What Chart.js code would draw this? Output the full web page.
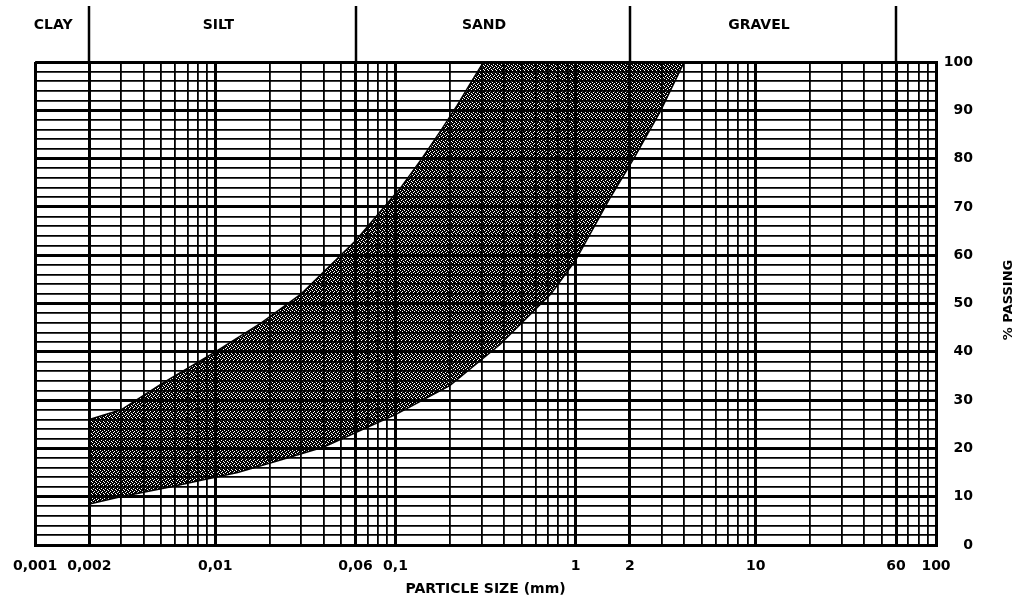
<!DOCTYPE html>
<html>
<head>
<meta charset="utf-8">
<script src="https://cdn.jsdelivr.net/npm/chart.js@4.4.0/dist/chart.umd.min.js"></script>
<style>
  html, body { margin: 0; padding: 0; background: #fff; }
  #wrap { width: 1020px; height: 605px; }
</style>
</head>
<body>
<div id="wrap"><canvas id="gradingChart" width="1020" height="605"></canvas></div>
<script>
// grading envelope: particle size (mm) vs % passing
const fineSize      = [0.002, 0.003, 0.0051, 0.01, 0.018, 0.03, 0.06, 0.107, 0.14, 0.18, 0.22, 0.26, 0.308];
const finePassing   = [26, 28, 33.5, 40, 46, 52, 63, 74, 80, 86, 91, 95.5, 100];
const coarseSize    = [0.002, 0.0029, 0.0056, 0.0086, 0.0133, 0.023, 0.04, 0.1, 0.2, 0.38, 0.73, 1.0, 1.56, 2.1, 2.97, 4.0];
const coarsePassing = [8.5, 9.9, 12, 13.5, 15, 17.6, 20.3, 27, 33, 41.5, 52, 59, 72, 80, 90, 100];

// axis labels
const sizeLabels    = [0.001, 0.002, 0.01, 0.06, 0.1, 1, 2, 10, 60, 100];
const passingLabels = [0, 10, 20, 30, 40, 50, 60, 70, 80, 90, 100];

// soil classes across the top
const zoneNames   = ['CLAY', 'SILT', 'SAND', 'GRAVEL'];
const zoneLimits  = [0.002, 0.06, 2, 60];
const zoneLabelAt = [0.00126, 0.0104, 0.31, 10.4];

const FONT = '"DejaVu Sans", sans-serif';

function near(a, b) {
    return Math.abs(a - b) / b < 1e-6;
}

// closed outline: fine limit upwards, then coarse limit back down
function envelope() {
    const pts = fineSize.map((s, i) => ({ x: s, y: finePassing[i] }));
    for (let i = coarseSize.length - 1; i >= 0; i--) {
        pts.push({ x: coarseSize[i], y: coarsePassing[i] });
    }
    pts.push(pts[0]);
    return pts;
}

function stipple() {
    const c = document.createElement('canvas');
    c.width = 4;
    c.height = 4;
    const g = c.getContext('2d');
    g.fillStyle = '#000';
    g.fillRect(0, 0, 4, 4);
    [[1, 0], [3, 1], [0, 2], [2, 3]].forEach(p => g.clearRect(p[0], p[1], 1, 1));
    return g.createPattern(c, 'repeat');
}

const sheetLabels = {
    id: 'sheetLabels',
    afterDraw(chart) {
        const ctx = chart.ctx;
        const x = chart.scales.x;
        const top = chart.chartArea.top;
        ctx.save();
        ctx.strokeStyle = '#000';
        ctx.lineWidth = 2.5;
        zoneLimits.forEach(v => {
            const px = Math.round(x.getPixelForValue(v));
            ctx.beginPath();
            ctx.moveTo(px, 6);
            ctx.lineTo(px, top);
            ctx.stroke();
        });
        ctx.fillStyle = '#000';
        ctx.font = 'bold 14px ' + FONT;
        ctx.textAlign = 'center';
        ctx.textBaseline = 'middle';
        zoneNames.forEach((n, i) => ctx.fillText(n, x.getPixelForValue(zoneLabelAt[i]), 25));
        ctx.font = 'bold 13px ' + FONT;
        ctx.translate(1009, 300);
        ctx.rotate(-Math.PI / 2);
        ctx.fillText('% PASSING', 0, 0);
        ctx.restore();
    }
};

const ctx = document.getElementById('gradingChart').getContext('2d');

new Chart(ctx, {
    type: 'line',
    data: {
        datasets: [{
            label: 'Grading envelope',
            data: envelope(),
            fill: 'shape',
            backgroundColor: stipple(),
            borderColor: '#000',
            borderWidth: 1.5,
            pointRadius: 0,
            tension: 0
        }]
    },
    options: {
        responsive: false,
        animation: false,
        layout: { padding: { top: 62, left: 35, right: 47, bottom: 0 } },
        plugins: {
            legend: { display: false },
            tooltip: { enabled: false }
        },
        scales: {
            x: {
                type: 'logarithmic',
                min: 0.001,
                max: 100,
                afterBuildTicks: scale => {
                    const ticks = [];
                    for (let n = -3; n <= 1; n++) {
                        for (let k = 1; k <= 9; k++) {
                            ticks.push({ value: Number((k * Math.pow(10, n)).toPrecision(3)) });
                        }
                    }
                    ticks.push({ value: 100 });
                    scale.ticks = ticks;
                },
                afterFit: scale => { scale.height = 60; },
                grid: {
                    color: '#000',
                    drawTicks: false,
                    lineWidth: c => (c.tick && sizeLabels.some(s => near(c.tick.value, s))) ? 3 : 1.8
                },
                border: { color: '#000', width: 3 },
                ticks: {
                    autoSkip: false,
                    maxRotation: 0,
                    padding: 13,
                    color: '#000',
                    font: { family: FONT, size: 14, weight: 'bold' },
                    callback: v => sizeLabels.some(s => near(v, s)) ? String(v).replace('.', ',') : ''
                },
                title: {
                    display: true,
                    text: 'PARTICLE SIZE (mm)',
                    color: '#000',
                    font: { family: FONT, size: 14, weight: 'bold' },
                    padding: { top: 0, bottom: 7 }
                }
            },
            y: {
                position: 'right',
                min: 0,
                max: 100,
                afterFit: scale => { scale.width = 37; },
                grid: {
                    color: '#000',
                    drawTicks: false,
                    lineWidth: c => (c.tick && c.tick.value % 10 === 0) ? 3 : 1.8
                },
                border: { color: '#000', width: 3 },
                ticks: {
                    stepSize: 2,
                    autoSkip: false,
                    crossAlign: 'far',
                    padding: 8,
                    color: '#000',
                    font: { family: FONT, size: 14, weight: 'bold' },
                    callback: v => passingLabels.includes(v) ? v : ''
                }
            }
        }
    },
    plugins: [sheetLabels]
});
</script>
</body>
</html>
